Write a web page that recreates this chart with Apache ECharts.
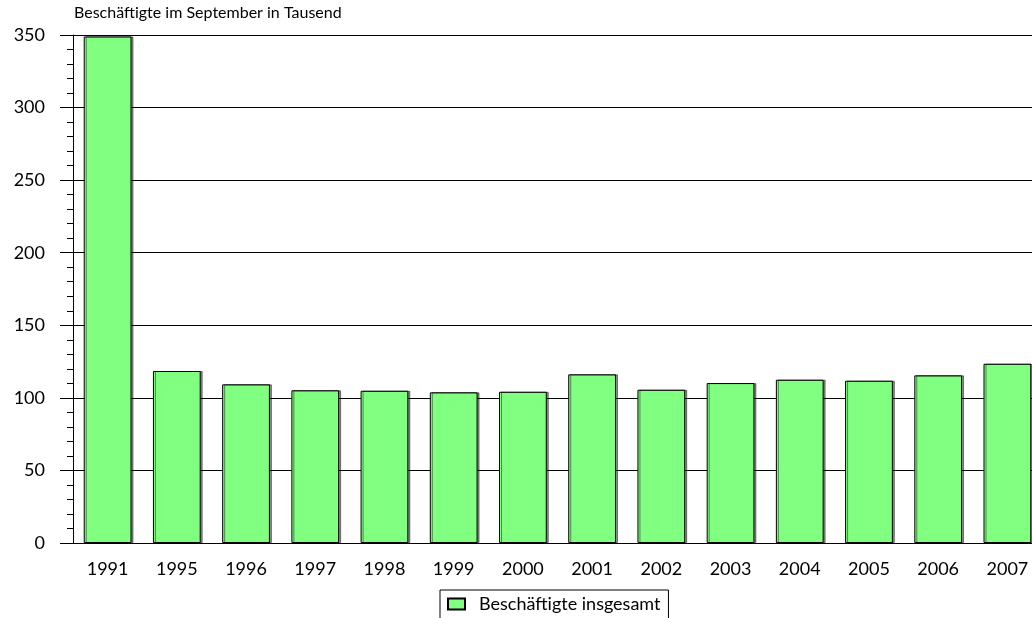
<!DOCTYPE html>
<html>
<head>
<meta charset="utf-8">
<script src="https://cdn.jsdelivr.net/npm/echarts@6/dist/echarts.min.js"></script>
<style>
  html, body { margin: 0; padding: 0; background: #fff; }
  #chart { width: 1032px; height: 618px; }
</style>
</head>
<body>
<div id="chart"></div>
<script>
const years = ['1991', '1995', '1996', '1997', '1998', '1999', '2000', '2001', '2002', '2003', '2004', '2005', '2006', '2007']
const beschaeftigte = [349, 118.5, 109.3, 105.2, 104.9, 103.8, 104.2, 116.2, 105.6, 110.2, 112.5, 111.8, 115.5, 123.5]
const seriesName = 'Beschäftigte insgesamt'
const titleText = 'Beschäftigte im September in Tausend'

const fontFamily = 'Lato, "DejaVu Sans", sans-serif'

const chart = echarts.init(document.getElementById('chart'))
chart.setOption({
  animation: false,
  backgroundColor: '#fff',
  textStyle: { fontFamily: fontFamily, color: '#000' },
  title: {
    text: titleText,
    left: 74,
    top: 5,
    padding: 0,
    textStyle: { fontSize: 16, fontWeight: 'normal', color: '#000', fontFamily: fontFamily }
  },
  // plot runs a bit past the right edge, as in the original
  grid: { left: 73, width: 969, top: 35, height: 508, containLabel: false, outerBoundsMode: 'none' },
  legend: {
    data: [seriesName],
    left: 440,
    top: 590,
    padding: [5, 8, 6, 7],
    itemWidth: 17,
    itemHeight: 11,
    itemGap: 10,
    borderColor: '#000',
    borderWidth: 1,
    icon: 'rect',
    textStyle: { fontSize: 18, color: '#000', fontFamily: fontFamily, padding: [0, 0, 0, 9] }
  },
  xAxis: {
    type: 'category',
    data: years,
    axisLine: { lineStyle: { color: '#000', width: 1 } },
    axisTick: { show: false },
    axisLabel: { fontSize: 18, color: '#000', margin: 17, fontFamily: fontFamily }
  },
  yAxis: {
    type: 'value',
    min: 0,
    max: 350,
    interval: 50,
    axisLine: { show: true, lineStyle: { color: '#000', width: 1 } },
    axisTick: { show: true, length: 13, lineStyle: { color: '#000' } },
    minorTick: { show: true, splitNumber: 5, length: 6, lineStyle: { color: '#000' } },
    splitLine: { show: true, lineStyle: { color: '#000', width: 1 } },
    axisLabel: { fontSize: 18, color: '#000', margin: 28, fontFamily: fontFamily }
  },
  series: [{
    name: seriesName,
    type: 'bar',
    data: beschaeftigte,
    barWidth: '69%',
    itemStyle: {
      color: '#80FF80',
      borderColor: '#000',
      borderWidth: 1,
      shadowColor: 'rgba(0,0,0,0.45)',
      shadowOffsetX: 2,
      shadowOffsetY: 0,
      shadowBlur: 0
    }
  }]
})
</script>
</body>
</html>
